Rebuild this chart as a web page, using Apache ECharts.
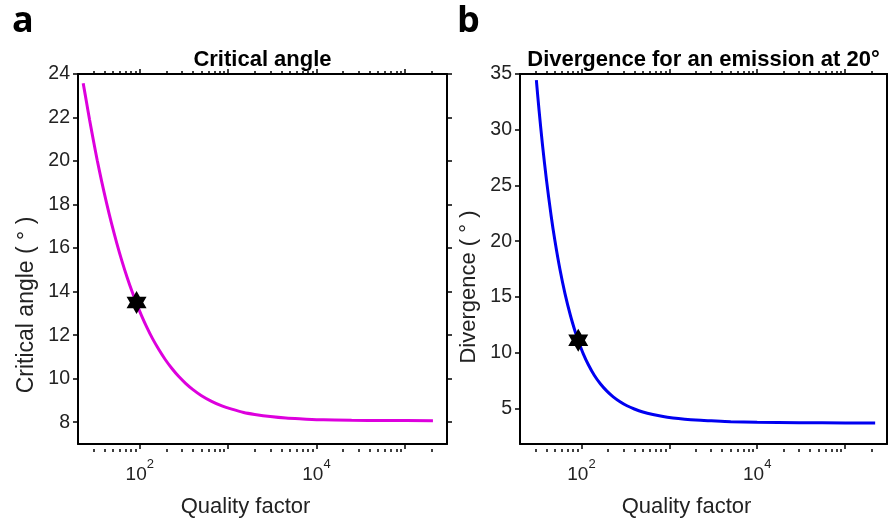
<!DOCTYPE html>
<html><head><meta charset="utf-8">
<script src="https://cdn.jsdelivr.net/npm/echarts@6/dist/echarts.min.js"></script>
<style>html,body{margin:0;padding:0;background:#fff}#c{width:888px;height:523px}</style>
</head><body><div id="c"></div>
<script>
// ---- data ----
const qualityA = [22.9, 25, 27, 30, 33, 37, 42, 48, 55, 63, 72, 82, 92, 105, 120, 140, 165, 195, 230, 275, 330, 400, 500, 650, 850, 1100, 1500, 2000, 3000, 4500, 7000, 12000, 25000, 60000, 208000];
const criticalAngle = [23.58, 22.69, 21.91, 20.91, 20.04, 19.08, 18.09, 17.12, 16.22, 15.39, 14.65, 13.99, 13.45, 12.89, 12.37, 11.83, 11.33, 10.87, 10.48, 10.11, 9.79, 9.5, 9.22, 8.96, 8.75, 8.6, 8.45, 8.36, 8.26, 8.19, 8.15, 8.11, 8.09, 8.08, 8.07];
const qualityB = [30.7, 33, 36, 40, 45, 50, 57, 65, 75, 85, 92, 105, 120, 140, 165, 195, 230, 275, 330, 400, 500, 650, 850, 1100, 1500, 2000, 3000, 5000, 10000, 30000, 100000, 220000];
const divergence = [34.46, 31.69, 28.69, 25.5, 22.4, 20.01, 17.45, 15.3, 13.33, 11.87, 11.07, 9.89, 8.91, 7.97, 7.18, 6.54, 6.03, 5.59, 5.23, 4.94, 4.67, 4.44, 4.26, 4.14, 4.03, 3.95, 3.88, 3.8, 3.75, 3.71, 3.69, 3.68];
const markerQ = 92;
const markerAngle = 13.5;
const markerDivergence = 11.1;
const xMajorTicks = [100, 1000, 10000, 100000];
const xMinorTicks = [30, 40, 50, 60, 70, 80, 90, 200, 300, 400, 500, 600, 700, 800, 900, 2000, 3000, 4000, 5000, 6000, 7000, 8000, 9000, 20000, 30000, 40000, 50000, 60000, 70000, 80000, 90000, 200000];
const xLabelTicks = [100, 10000];
const yTicksA = [8, 10, 12, 14, 16, 18, 20, 22, 24];
const yTicksB = [5, 10, 15, 20, 25, 30, 35];
const titles = ['Critical angle', 'Divergence for an emission at 20°'];
const yNames = ['Critical angle ( ° )', 'Divergence ( ° )'];
const xName = 'Quality factor';
const panelLetters = ['a', 'b'];

// ---- layout / style ----
const FONT = 'Liberation Sans, Arial, sans-serif';
const grids = [
  { left: 78, top: 74, width: 369, height: 375 },
  { left: 520, top: 74, width: 367, height: 375 }
];
const yRanges = [[7, 24], [1.8, 35]];
const yTicks = [yTicksA, yTicksB];
const yNameShift = [92, 56];
const yNameSize = [23, 22];
const X_MIN = 20, X_MAX = 300000;
const lineColors = ['#dd00dd', '#0000f0'];
const starPath = 'path://M0,-10L2.887,-5L8.66,-5L5.774,0L8.66,5L2.887,5L0,10L-2.887,5L-8.66,5L-5.774,0L-8.66,-5L-2.887,-5Z';

const option = { animation: false, backgroundColor: '#fff', grid: [], xAxis: [], yAxis: [], series: [], graphic: [] };

grids.forEach((g, p) => {
  const gMain = option.grid.length;
  option.grid.push(Object.assign({ containLabel: false }, g));
  const gMinor = option.grid.length;
  option.grid.push(Object.assign({ containLabel: false }, g));

  const baseX = { type: 'log', min: X_MIN, max: X_MAX, logBase: 10, splitLine: { show: false }, minorTick: { show: false } };
  const axisLine = { show: true, onZero: false, lineStyle: { color: '#000', width: 2 } };
  const tickStyle = { color: '#000', width: 1.5 };

  option.xAxis.push(Object.assign({}, baseX, {
    gridIndex: gMain, position: 'bottom', axisLine,
    axisTick: { show: true, inside: false, length: 5, customValues: xMajorTicks, lineStyle: tickStyle },
    axisLabel: {
      show: true, customValues: xLabelTicks, margin: 14,
      formatter: v => '{b|10}{s|' + Math.round(Math.log10(v)) + '}',
      rich: {
        b: { fontSize: 19, fontFamily: FONT, color: '#222', lineHeight: 26, verticalAlign: 'bottom' },
        s: { fontSize: 13, fontFamily: FONT, color: '#222', lineHeight: 12, verticalAlign: 'top' }
      }
    },
    name: xName, nameLocation: 'middle', nameGap: 52,
    nameTextStyle: { fontSize: 22, fontFamily: FONT, color: '#222', padding: [0, 34, 0, 0] }
  }));
  option.xAxis.push(Object.assign({}, baseX, {
    gridIndex: gMain, position: 'top', axisLine,
    axisTick: { show: true, inside: false, length: 5, customValues: xMajorTicks, lineStyle: tickStyle },
    axisLabel: { show: false }
  }));
  option.xAxis.push(Object.assign({}, baseX, {
    gridIndex: gMinor, position: 'bottom', axisLine: { show: false },
    axisTick: { show: true, inside: false, length: 3, customValues: xMinorTicks, lineStyle: tickStyle },
    axisLabel: { show: false }
  }));
  option.xAxis.push(Object.assign({}, baseX, {
    gridIndex: gMinor, position: 'top', axisLine: { show: false },
    axisTick: { show: true, inside: false, length: 3, customValues: xMinorTicks, lineStyle: tickStyle },
    axisLabel: { show: false }
  }));

  const baseY = { type: 'value', min: yRanges[p][0], max: yRanges[p][1], splitLine: { show: false } };
  const yMainIdx = option.yAxis.length;
  option.yAxis.push(Object.assign({}, baseY, {
    gridIndex: gMain, position: 'left', axisLine,
    axisTick: { show: true, inside: false, length: 5, customValues: yTicks[p], lineStyle: tickStyle },
    axisLabel: { show: true, customValues: yTicks[p], margin: 8, fontSize: 19.5, fontFamily: FONT, color: '#222' },
    name: yNames[p], nameLocation: 'middle', nameGap: 40,
    nameTextStyle: { fontSize: yNameSize[p], fontFamily: FONT, color: '#222', padding: [0, yNameShift[p], 0, 0] }
  }));
  option.yAxis.push(Object.assign({}, baseY, {
    gridIndex: gMain, position: 'right', axisLine,
    axisTick: { show: true, inside: false, length: 5, customValues: yTicks[p], lineStyle: tickStyle },
    axisLabel: { show: false }
  }));
  option.yAxis.push(Object.assign({}, baseY, { gridIndex: gMinor, show: false }));

  const xs = p === 0 ? qualityA : qualityB;
  const ys = p === 0 ? criticalAngle : divergence;
  const xMainIdx = p * 4;
  option.series.push({
    type: 'line', xAxisIndex: xMainIdx, yAxisIndex: yMainIdx,
    data: xs.map((q, i) => [q, ys[i]]),
    showSymbol: false, smooth: 0.3, clip: true,
    lineStyle: { color: lineColors[p], width: 3 }, z: 3
  });
  option.series.push({
    type: 'scatter', xAxisIndex: xMainIdx, yAxisIndex: yMainIdx,
    data: [[markerQ, p === 0 ? markerAngle : markerDivergence]],
    symbol: starPath, symbolSize: [20, 23],
    itemStyle: { color: '#000', opacity: 1 }, z: 5
  });

  option.graphic.push({
    type: 'text', x: g.left + g.width / 2, y: 60, z: 10,
    style: { text: titles[p], font: 'bold 22px ' + FONT, fill: '#000', textAlign: 'center', textVerticalAlign: 'middle' }
  });
  option.graphic.push({
    type: 'text', x: p === 0 ? 12 : 457, y: 22, z: 10,
    style: { text: panelLetters[p], font: 'bold 36px "Open Sans", sans-serif', fill: '#000', textAlign: 'left', textVerticalAlign: 'middle' }
  });
});

const chart = echarts.init(document.getElementById('c'), null, { renderer: 'canvas' });
chart.setOption(option);
</script>
</body></html>
